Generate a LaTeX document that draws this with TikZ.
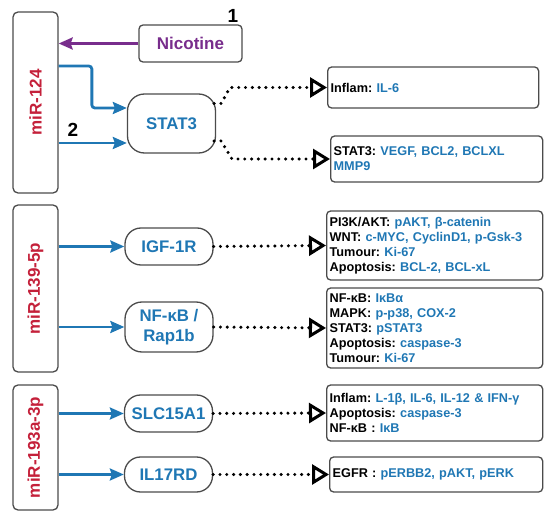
\documentclass[tikz,border=0pt]{standalone}
\usepackage{fontspec}
\setmainfont{Liberation Sans}
\usetikzlibrary{arrows.meta}
\definecolor{mirred}{RGB}{196,32,58}
\definecolor{tblue}{RGB}{31,119,180}
\definecolor{nicpurple}{RGB}{120,45,140}
\definecolor{edge}{RGB}{75,75,75}
\newcommand{\blu}[1]{\textcolor{tblue}{#1}}
\frenchspacing
\tikzset{
  mirbox/.style={rectangle, rounded corners=5pt, draw=edge, line width=1.3pt, minimum width=45pt, inner sep=0pt, font=\fontsize{17}{20}\selectfont\bfseries\color{mirred}},
  target/.style={rectangle, rounded corners=16pt, draw=edge, line width=1.3pt, minimum width=88pt, inner sep=2pt, align=center, font=\fontsize{16.8}{20}\selectfont\bfseries\color{tblue}},
  effect/.style={rectangle, rounded corners=4pt, draw=edge, line width=1.3pt, anchor=west, inner xsep=3pt, inner ysep=2pt, align=left, font=\fontsize{12.7}{15}\selectfont\bfseries},
  hit/.style={draw=tblue, line width=2.8pt, -{Stealth[length=14pt,width=12pt,inset=2pt]}},
  dotline/.style={line width=3.4pt, line cap=round, dash pattern=on 0pt off 6.8pt, -{Triangle[open,length=17pt,width=20pt,line width=3pt]}},
  numlabel/.style={font=\fontsize{19}{19}\selectfont\bfseries},
}
\begin{document}
\begin{tikzpicture}[x=1pt, y=-1pt]
\useasboundingbox (0,0) rectangle (550,516);
% microRNAs
\node[mirbox, minimum height=181pt] (m124) at (35.5,102.5) {\rotatebox{90}{miR-124}};
\node[mirbox, minimum height=167pt] (m139) at (35.5,288.5) {\rotatebox{90}{miR-139-5p}};
\node[mirbox, minimum height=125pt] (m193) at (35.5,447.5) {\rotatebox{90}{miR-193a-3p}};
% nicotine
\node[rectangle, rounded corners=4pt, draw=edge, line width=1.3pt, minimum width=103pt, minimum height=37pt,
  font=\fontsize{17}{20}\selectfont\bfseries, text=nicpurple] (nic) at (190.5,43.5) {Nicotine};
\node[numlabel] (one) at (233,16) {1};
\node[numlabel] (two) at (73,130) {2};
% targets
\node[target, minimum height=59pt, rounded corners=17pt] (s3) at (171.5,123.5) {STAT3};
\node[target, minimum height=37pt] (igf) at (169,246.5) {IGF-1R};
\node[target, minimum height=50pt, rounded corners=17pt] (nfkb) at (169,327) {NF-κB /\\Rap1b};
\node[target, minimum height=37pt] (slc) at (168.5,413.5) {SLC15A1};
\node[target, minimum height=35pt] (il17) at (168.5,474.5) {IL17RD};
% effects
\node[effect, text width=205pt, minimum height=41pt] (e1) at (327,87.5) {Inflam: \blu{IL-6}};
\node[effect, text width=206pt, minimum height=46pt] (e2) at (330,159) {STAT3: \blu{VEGF, BCL2, BCLXL}\\\blu{MMP9}};
\node[effect, text width=210pt, minimum height=69pt] (e3) at (326,245.5) {PI3K/AKT: \blu{pAKT, β-catenin}\\WNT: \blu{c-MYC, CyclinD1, p-Gsk-3}\\Tumour: \blu{Ki-67}\\Apoptosis: \blu{BCL-2, BCL-xL}};
\node[effect, text width=210pt, minimum height=80pt] (e4) at (326,328) {NF-κB: \blu{IκBα}\\MAPK: \blu{p-p38, COX-2}\\STAT3: \blu{pSTAT3}\\Apoptosis: \blu{caspase-3}\\Tumour: \blu{Ki-67}};
\node[effect, text width=210pt, minimum height=56pt] (e5) at (326,413) {Inflam: \blu{L-1β, IL-6, IL-12 \& IFN-γ}\\Apoptosis: \blu{caspase-3}\\NF-κB : \blu{IκB}};
\node[effect, text width=207pt, minimum height=35pt] (e6) at (329,474.5) {EGFR : \blu{pERBB2, pAKT, pERK}};
% arrows
\coordinate (s3in) at ([yshift=-19.5pt]s3.west);
\draw[nicpurple, line width=2.8pt, -{Stealth[length=14pt,width=12pt,inset=2pt]}] (nic.west) -- (nic.west -| m124.east);
\draw[hit, rounded corners=3pt] ([yshift=36.5pt]m124.east) -| ([xshift=-35pt,yshift=15.5pt]s3.west) -- ([yshift=15.5pt]s3.west);
\draw[hit] (s3in -| m124.east) -- (s3in);
\draw[hit] (igf.west -| m139.east) -- (igf.west);
\draw[hit] (nfkb.west -| m139.east) -- (nfkb.west);
\draw[hit] (slc.west -| m193.east) -- (slc.west);
\draw[hit] (il17.west -| m193.east) -- (il17.west);
% dotted links
\draw[dotline] ([xshift=-2pt,yshift=20pt]s3.east) -- ++(7,0) -- ([xshift=-97pt]e1.west) -- (e1.west);
\draw[dotline] ([xshift=-2pt,yshift=-17.5pt]s3.east) -- ++(7,0) -- ([xshift=-98pt]e2.west) -- (e2.west);
\draw[dotline] (igf.east) -- (e3.west);
\draw[dotline] (nfkb.east) -- (e4.west);
\draw[dotline] (slc.east) -- (e5.west);
\draw[dotline] (il17.east) -- (e6.west);
\end{tikzpicture}
\end{document}
